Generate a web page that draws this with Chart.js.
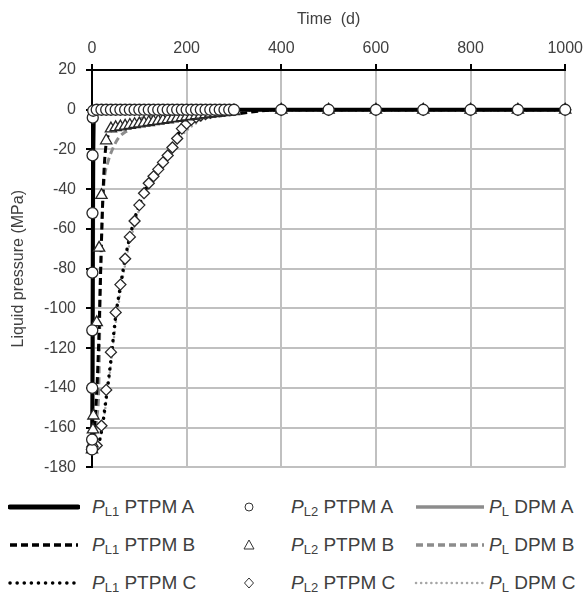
<!DOCTYPE html>
<html>
<head>
<meta charset="utf-8">
<script src="https://cdn.jsdelivr.net/npm/chart.js@4.4.1/dist/chart.umd.min.js"></script>
<style>
  body { margin: 0; background: #fff; font-family: "Liberation Sans", Arial, sans-serif; overflow: hidden; }
  #wrap { position: relative; width: 587px; height: 594px; overflow: hidden; }
  #chart { position: absolute; left: 0; top: 0; }
  .lg { position: absolute; height: 22px; line-height: 22px; font-size: 19px; color: #404040; white-space: nowrap; }
  .lg svg { position: absolute; top: 1px; }
  .lg sub { font-size: 13px; vertical-align: -3px; line-height: 0; }
</style>
</head>
<body>
<div id="wrap">
  <canvas id="chart" width="589" height="487"></canvas>
  <div id="legend"></div>
</div>
<script>
// PTPM A
const tL1A = [0, 0.5, 1, 1.5, 2, 2.5, 3, 5, 10, 300, 1000];
const pL1A = [-171, -160, -130, -90, -50, -20, -6, -1, 0, 0, 0];
const tL2A = [0, 0.2, 0.4, 0.6, 0.8, 1, 1.2, 1.6, 2.5,
  10, 20, 30, 40, 50, 60, 70, 80, 90, 100, 110, 120, 130, 140, 150, 160, 170, 180, 190, 200,
  210, 220, 230, 240, 250, 260, 270, 280, 290, 300, 400, 500, 600, 700, 800, 900, 1000];
const pL2A = [-171, -166, -140, -111, -82, -52, -23, -4, -0.5,
  0, 0, 0, 0, 0, 0, 0, 0, 0, 0, 0, 0, 0, 0, 0, 0, 0, 0, 0, 0,
  0, 0, 0, 0, 0, 0, 0, 0, 0, 0, 0, 0, 0, 0, 0, 0, 0];
const tDpmA = [0, 1, 2, 2.5, 3, 3.5, 4, 6, 10, 300, 1000];
const pDpmA = [-171, -166, -150, -125, -90, -50, -20, -4, -0.5, 0, 0];

// PTPM B
const tL1B = [0, 2, 5, 8, 11, 14, 17, 20, 23, 26, 30, 35, 40, 60, 80, 100, 120, 150, 180, 210, 240, 270, 300, 400, 1000];
const pL1B = [-171, -168, -160, -150, -137, -118, -93, -66, -44, -28, -17, -12.5, -10.5, -9.6, -8.8, -7.8, -7, -6, -5.2, -4.4, -3.6, -2.9, -2.2, 0, 0];
const tL2B = [0, 1, 2, 3, 10, 15, 20, 30,
  40, 50, 60, 70, 80, 90, 100, 110, 120, 130, 140, 150, 160, 170, 180, 190, 200,
  210, 220, 230, 240, 250, 260, 270, 280, 290, 300, 400, 500, 600, 700, 800, 900, 1000];
const pL2B = [-171, -168, -161, -154, -107, -69.5, -43, -15.5,
  -9.5, -8.9, -8.5, -8.1, -7.7, -7.3, -7, -6.6, -6.3, -5.9, -5.6, -5.2, -4.9, -4.5, -4.2, -3.9, -3.5,
  -3.2, -2.9, -2.6, -2.3, -2, -1.8, -1.5, -1.3, -1, -0.8, 0, 0, 0, 0, 0, 0, 0];
const tDpmB = [0, 5, 10, 14, 16, 17, 19, 22, 26, 34, 45, 55, 80, 100, 130, 170, 220, 300, 400, 1000];
const pDpmB = [-171, -165, -155, -142, -115, -91, -76, -50, -35, -26, -19, -14.5, -9.5, -5, -3, -1.5, -0.7, 0, 0, 0];

// PTPM C
const tL1C = [0, 10, 20, 30, 40, 50, 60, 70, 80, 90, 100, 110, 120, 130, 140, 150, 160, 170, 180, 190, 200,
  220, 240, 260, 280, 300, 400, 1000];
const pL1C = [-171, -170, -162, -145, -126, -104, -89, -75, -64, -55, -48, -42, -37, -33, -29.5, -26, -22, -17.5, -13, -9.5, -7.5,
  -4.5, -2.5, -1.3, -0.5, 0, 0, 0];
const tL2C = [0, 10, 20, 30, 40, 50, 60, 70, 80, 90, 100, 110, 120, 130, 140, 150, 160, 170, 180, 190, 200,
  210, 220, 230, 240, 250, 260, 270, 280, 290, 300, 400, 500, 600, 700, 800, 900, 1000];
const pL2C = [-171, -169, -159, -141, -122, -102, -88, -75, -64, -56, -48, -42, -37, -33.5, -30, -26.5, -23, -19, -14.5, -9.5, -7,
  -5, -3.8, -2.9, -2.2, -1.6, -1.1, -0.7, -0.4, -0.2, 0, 0, 0, 0, 0, 0, 0, 0];
const tDpmC = [0, 10, 20, 30, 40, 50, 60, 70, 80, 90, 100, 110, 120, 130, 140, 150, 160, 170, 180, 190, 200,
  210, 220, 230, 240, 250, 260, 280, 300, 400, 1000];
const pDpmC = [-171, -170, -163, -147, -128, -108, -92, -78, -67, -58, -50, -44, -39, -35, -31.5, -28, -24.5, -21, -17, -13, -10.5,
  -8.5, -6.8, -5.2, -4, -3, -2.2, -1, 0, 0, 0];

const xTicks = [0, 200, 400, 600, 800, 1000];
const yTicks = [20, 0, -20, -40, -60, -80, -100, -120, -140, -160, -180];

const pts = (t, p) => t.map((v, i) => ({ x: v, y: p[i] }));
const BLACK = '#000000';
const GREY = '#8c8c8c';
const LIGHT = '#a6a6a6';
const INK = '#404040';

function lineSet(label, t, p, color, width, dash, order) {
  return {
    label, data: pts(t, p), borderColor: color, borderWidth: width, borderDash: dash,
    borderCapStyle: dash.length && dash[0] < 1 ? 'round' : 'butt',
    pointRadius: 0, showLine: true, fill: false, cubicInterpolationMode: 'monotone', order, clip: false,
  };
}
function markSet(label, t, p, style, radius) {
  return {
    label, data: pts(t, p), showLine: false, pointStyle: style, pointRadius: radius,
    pointBackgroundColor: '#ffffff', pointBorderColor: '#262626', pointBorderWidth: 1.3, order: 0, clip: false,
  };
}

const axisFont = { family: '"Liberation Sans", Arial, sans-serif', size: 16 };

new Chart(document.getElementById('chart'), {
  type: 'scatter',
  data: {
    datasets: [
      markSet('PL2 PTPM A', tL2A, pL2A, 'circle', 5.5),
      markSet('PL2 PTPM B', tL2B, pL2B, 'triangle', 6.5),
      markSet('PL2 PTPM C', tL2C, pL2C, 'rectRot', 5.5),
      lineSet('PL1 PTPM A', tL1A, pL1A, BLACK, 4, [], 1),
      lineSet('PL1 PTPM B', tL1B, pL1B, BLACK, 3, [7, 4], 1),
      lineSet('PL1 PTPM C', tL1C, pL1C, BLACK, 3.5, [0.1, 7], 1),
      lineSet('PL DPM A', tDpmA, pDpmA, GREY, 3, [], 2),
      lineSet('PL DPM B', tDpmB, pDpmB, GREY, 3, [7, 4], 2),
      lineSet('PL DPM C', tDpmC, pDpmC, LIGHT, 2.5, [0.1, 5], 2),
    ],
  },
  options: {
    responsive: false,
    animation: false,
    devicePixelRatio: 1,
    layout: { padding: { top: 0, right: 22, bottom: 10, left: 0 } },
    plugins: { legend: { display: false }, tooltip: { enabled: false } },
    scales: {
      x: {
        type: 'linear', position: 'top', min: 0, max: 1000,
        afterBuildTicks: s => { s.ticks = xTicks.map(v => ({ value: v })); },
        afterFit: s => { s.height = 70; },
        ticks: { color: INK, font: axisFont, padding: 6, maxRotation: 0, callback: v => String(v) },
        grid: { color: '#c0c0c0', lineWidth: 2, tickColor: BLACK, tickLength: 6, tickWidth: 2 },
        border: { color: BLACK, width: 2 },
        title: { display: true, text: 'Time  (d)', color: INK, font: axisFont, padding: { top: 10, bottom: 0 } },
      },
      y: {
        min: -180, max: 20,
        afterBuildTicks: s => { s.ticks = yTicks.map(v => ({ value: v })); },
        afterFit: s => { s.width = 92; },
        ticks: { color: INK, font: axisFont, padding: 10, callback: v => String(v) },
        grid: { color: '#c0c0c0', lineWidth: 2, tickColor: BLACK, tickLength: 6, tickWidth: 2 },
        border: { color: BLACK, width: 2 },
        title: { display: true, text: 'Liquid pressure (MPa)', color: INK, font: axisFont, padding: { top: 9, bottom: 0 } },
      },
    },
  },
});

// legend, laid out like the Excel original
const legendRows = [507, 545, 583];
const lineSample = (color, width, dash, cap) =>
  `<svg width="72" height="20" style="left:0"><line x1="2" y1="10" x2="70" y2="10" stroke="${color}" stroke-width="${width}" stroke-dasharray="${dash}" stroke-linecap="${cap}"/></svg>`;
const markSample = shape =>
  `<svg width="14" height="20" style="left:0">${shape}</svg>`;
const items = [
  [8, 0, lineSample(BLACK, 5, 'none', 'round'), 84, 'L1', 'PTPM A'],
  [8, 1, lineSample(BLACK, 3.5, '7 4', 'butt'), 84, 'L1', 'PTPM B'],
  [8, 2, lineSample(BLACK, 3.5, '0.1 7', 'round'), 84, 'L1', 'PTPM C'],
  [242, 0, markSample('<circle cx="7" cy="10" r="4" fill="#fff" stroke="#333" stroke-width="1"/>'), 49, 'L2', 'PTPM A'],
  [242, 1, markSample('<polygon points="7,5 12,14 2,14" fill="#fff" stroke="#333" stroke-width="1"/>'), 49, 'L2', 'PTPM B'],
  [242, 2, markSample('<polygon points="7,5 11.5,10 7,15 2.5,10" fill="#fff" stroke="#333" stroke-width="1"/>'), 49, 'L2', 'PTPM C'],
  [414, 0, lineSample(GREY, 3.5, 'none', 'butt'), 75, 'L', 'DPM A'],
  [414, 1, lineSample(GREY, 3.5, '7 4', 'butt'), 75, 'L', 'DPM B'],
  [414, 2, lineSample(LIGHT, 2.5, '0.1 5', 'round'), 75, 'L', 'DPM C'],
];
document.getElementById('legend').innerHTML = items.map(([x, r, sample, tx, sub, txt]) =>
  `<div class="lg" style="left:${x}px;top:${legendRows[r] - 11}px">${sample}` +
  `<span style="position:absolute;left:${tx}px"><i>P</i><sub>${sub}</sub> ${txt}</span></div>`
).join('');
</script>
</body>
</html>
